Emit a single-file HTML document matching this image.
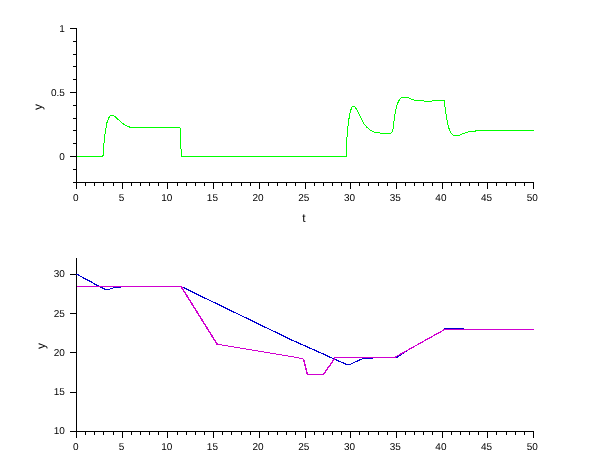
<!DOCTYPE html>
<html><head><meta charset="utf-8"><title>plot</title>
<style>
html,body{margin:0;padding:0;background:#fff;}
body{width:610px;height:460px;overflow:hidden;}
svg{display:block;}
text{font-family:"Liberation Sans",sans-serif;font-size:10px;fill:#000;text-rendering:geometricPrecision;}
.ax{stroke:#000;stroke-width:1;shape-rendering:crispEdges;fill:none;}
</style></head><body>
<svg width="610" height="460" viewBox="0 0 610 460">
<rect width="610" height="460" fill="#fff"/>
<path class="ax" d="M76.5 28.0V183.0"/>
<path class="ax" d="M76 182.5H534"/>
<path class="ax" d="M76.5 182.5v6M85.5 182.5v3M94.5 182.5v3M103.5 182.5v3M113.5 182.5v3M122.5 182.5v6M131.5 182.5v3M140.5 182.5v3M149.5 182.5v3M158.5 182.5v3M167.5 182.5v6M177.5 182.5v3M186.5 182.5v3M195.5 182.5v3M204.5 182.5v3M213.5 182.5v6M222.5 182.5v3M231.5 182.5v3M241.5 182.5v3M250.5 182.5v3M259.5 182.5v6M268.5 182.5v3M277.5 182.5v3M286.5 182.5v3M295.5 182.5v3M305.5 182.5v6M314.5 182.5v3M323.5 182.5v3M332.5 182.5v3M341.5 182.5v3M350.5 182.5v6M359.5 182.5v3M368.5 182.5v3M378.5 182.5v3M387.5 182.5v3M396.5 182.5v6M405.5 182.5v3M414.5 182.5v3M423.5 182.5v3M432.5 182.5v3M442.5 182.5v6M451.5 182.5v3M460.5 182.5v3M469.5 182.5v3M478.5 182.5v3M487.5 182.5v6M496.5 182.5v3M506.5 182.5v3M515.5 182.5v3M524.5 182.5v3M533.5 182.5v6"/>
<text x="75.9" y="201.0" text-anchor="middle">0</text>
<text x="121.6" y="201.0" text-anchor="middle">5</text>
<text x="166.7" y="201.0" text-anchor="middle">10</text>
<text x="212.4" y="201.0" text-anchor="middle">15</text>
<text x="258.1" y="201.0" text-anchor="middle">20</text>
<text x="303.8" y="201.0" text-anchor="middle">25</text>
<text x="349.5" y="201.0" text-anchor="middle">30</text>
<text x="395.2" y="201.0" text-anchor="middle">35</text>
<text x="440.9" y="201.0" text-anchor="middle">40</text>
<text x="486.6" y="201.0" text-anchor="middle">45</text>
<text x="532.3" y="201.0" text-anchor="middle">50</text>
<text x="64.8" y="160" text-anchor="end">0</text>
<text x="64.8" y="96" text-anchor="end">0.5</text>
<text x="64.8" y="32" text-anchor="end">1</text>
<path class="ax" d="M70 156.5H76M70 92.5H76M70 28.5H76M73 182.5H76M73 169.5H76M73 143.5H76M73 130.5H76M73 118.5H76M73 105.5H76M73 79.5H76M73 66.5H76M73 54.5H76M73 41.5H76"/>
<text x="303.8" y="222" text-anchor="middle" style="font-size:12px">t</text>
<text transform="translate(42.3,107) rotate(-90)" text-anchor="middle" style="font-size:12px">y</text>
<polyline fill="none" shape-rendering="crispEdges" stroke="#00ff00" stroke-width="1" points="76.5,156.5 102.3,156.5 103.2,155.2 103.6,146.1 104.7,136.7 105.8,128.8 107.0,122.5 108.6,118.1 110.3,115.6 113.6,115.5 115.2,116.6 118.0,119.4 121.2,122.2 124.3,124.6 127.5,126.1 130.6,127.5 179.4,127.5 180.7,128.8 181.0,149.2 181.6,156.5 346.3,156.5 346.6,142.1 347.6,129.5 348.7,120.1 350.2,112.2 351.6,107.5 352.3,106.5 354.8,106.5 356.5,109.2 358.5,113.2 360.5,117.0 363.6,123.2 366.8,127.2 369.9,129.9 373.0,131.7 376.2,132.5 380.1,133.0 381.7,133.5 390.4,133.5 391.9,132.4 393.2,128.0 394.3,118.5 395.9,109.1 397.4,103.6 399.5,99.6 401.7,97.6 407.7,97.5 410.8,98.9 415.5,100.4 423.6,100.5 424.3,101.5 431.3,101.5 432.6,100.5 444.4,100.5 444.9,105.9 446.4,117.0 448.3,126.4 450.2,131.9 452.3,134.6 453.8,135.5 459.3,135.5 462.5,133.8 465.6,132.7 469.6,131.7 475.1,131.4 476.3,130.5 533.5,130.5"/>
<path class="ax" d="M76.5 258.0V432.0"/>
<path class="ax" d="M76 431.5H534"/>
<path class="ax" d="M76.5 431.5v6M85.5 431.5v3M94.5 431.5v3M103.5 431.5v3M113.5 431.5v3M122.5 431.5v6M131.5 431.5v3M140.5 431.5v3M149.5 431.5v3M158.5 431.5v3M167.5 431.5v6M177.5 431.5v3M186.5 431.5v3M195.5 431.5v3M204.5 431.5v3M213.5 431.5v6M222.5 431.5v3M231.5 431.5v3M241.5 431.5v3M250.5 431.5v3M259.5 431.5v6M268.5 431.5v3M277.5 431.5v3M286.5 431.5v3M295.5 431.5v3M305.5 431.5v6M314.5 431.5v3M323.5 431.5v3M332.5 431.5v3M341.5 431.5v3M350.5 431.5v6M359.5 431.5v3M368.5 431.5v3M378.5 431.5v3M387.5 431.5v3M396.5 431.5v6M405.5 431.5v3M414.5 431.5v3M423.5 431.5v3M432.5 431.5v3M442.5 431.5v6M451.5 431.5v3M460.5 431.5v3M469.5 431.5v3M478.5 431.5v3M487.5 431.5v6M496.5 431.5v3M506.5 431.5v3M515.5 431.5v3M524.5 431.5v3M533.5 431.5v6"/>
<text x="75.9" y="450.0" text-anchor="middle">0</text>
<text x="121.6" y="450.0" text-anchor="middle">5</text>
<text x="166.7" y="450.0" text-anchor="middle">10</text>
<text x="212.4" y="450.0" text-anchor="middle">15</text>
<text x="258.1" y="450.0" text-anchor="middle">20</text>
<text x="303.8" y="450.0" text-anchor="middle">25</text>
<text x="349.5" y="450.0" text-anchor="middle">30</text>
<text x="395.2" y="450.0" text-anchor="middle">35</text>
<text x="440.9" y="450.0" text-anchor="middle">40</text>
<text x="486.6" y="450.0" text-anchor="middle">45</text>
<text x="532.3" y="450.0" text-anchor="middle">50</text>
<text x="64.8" y="434" text-anchor="end">10</text>
<text x="64.8" y="395" text-anchor="end">15</text>
<text x="64.8" y="356" text-anchor="end">20</text>
<text x="64.8" y="317" text-anchor="end">25</text>
<text x="64.8" y="277" text-anchor="end">30</text>
<path class="ax" d="M70 431.5H76M70 392.5H76M70 352.5H76M70 313.5H76M70 274.5H76"/>
<text transform="translate(45.3,346) rotate(-90)" text-anchor="middle" style="font-size:12px">y</text>
<polyline fill="none" shape-rendering="crispEdges" stroke="#0000d0" stroke-width="1" points="76.5,274.2 104.8,289.5 108.2,289.5 113.3,288.0 119.6,287.2 125.0,286.5 180.8,286.5 290.0,339.3 346.4,364.5 349.7,364.5 356.0,361.4 362.8,358.5 372.0,358.5 372.5,357.5 394.3,357.5 395.3,358.0 404.0,352.6 412.0,347.6 443.5,330.1 445.2,328.5 462.6,328.5 466.0,329.5 533.5,329.5"/>
<polyline fill="none" shape-rendering="crispEdges" stroke="#0000d0" stroke-width="1" points="77.0,274.2 105.3,289.5"/>
<polyline fill="none" shape-rendering="crispEdges" stroke="#0000d0" stroke-width="1" points="181.3,286.5 290.5,339.3 346.9,364.5 350.2,364.5 356.5,361.4 363.3,358.5"/>
<polyline fill="none" shape-rendering="crispEdges" stroke="#0000d0" stroke-width="1" points="394.8,357.5 395.8,358.0 404.5,352.6"/>
<polyline fill="none" shape-rendering="crispEdges" stroke="#d000d0" stroke-width="1" points="76.6,286.5 180.8,286.5 216.8,344.1 303.0,358.6 307.3,374.5 323.3,374.5 334.9,357.5 394.2,357.5 444.5,329.5 533.5,329.5"/>
<polyline fill="none" shape-rendering="crispEdges" stroke="#d000d0" stroke-width="1" points="181.3,286.5 217.3,344.1"/>
<polyline fill="none" shape-rendering="crispEdges" stroke="#d000d0" stroke-width="1" points="394.7,357.5 445.0,329.5"/>
<polyline fill="none" shape-rendering="crispEdges" stroke="#d000d0" stroke-width="1" points="303.5,358.6 307.8,374.5"/>
<polyline fill="none" shape-rendering="crispEdges" stroke="#d000d0" stroke-width="1" points="323.8,374.5 335.4,357.5"/>
</svg></body></html>
